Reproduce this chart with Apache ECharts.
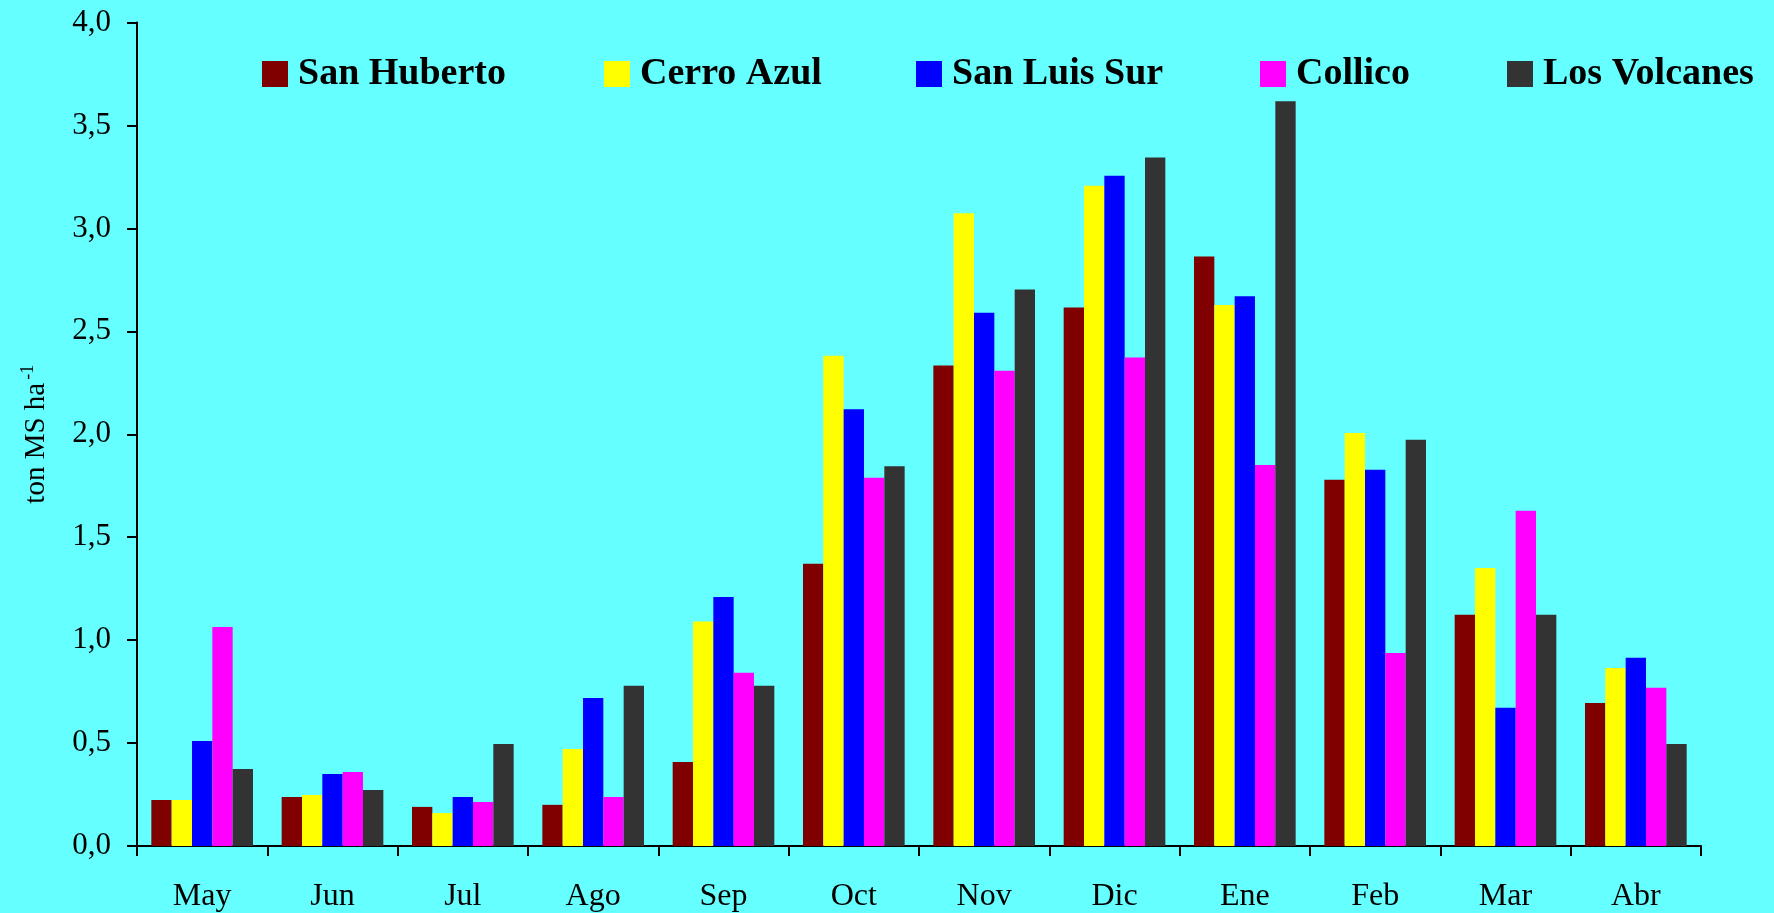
<!DOCTYPE html>
<html>
<head>
<meta charset="utf-8">
<script src="https://cdn.jsdelivr.net/npm/echarts@6/dist/echarts.min.js"></script>
<style>
html,body{margin:0;padding:0;background:#66FFFF;}
#chart{width:1774px;height:913px;}
</style>
</head>
<body>
<div id="chart"></div>
<script>
var categories = ['May','Jun','Jul','Ago','Sep','Oct','Nov','Dic','Ene','Feb','Mar','Abr'];
var seriesNames = ['San Huberto','Cerro Azul','San Luis Sur','Collico','Los Volcanes'];
var sanHuberto = [0.224,0.238,0.19,0.20,0.408,1.371,2.334,2.616,2.863,1.779,1.123,0.695];
var cerroAzul  = [0.224,0.248,0.16,0.471,1.09,2.381,3.073,3.207,2.628,2.006,1.35,0.865];
var sanLuisSur = [0.51,0.35,0.238,0.719,1.21,2.122,2.59,3.256,2.67,1.828,0.671,0.914];
var collico    = [1.064,0.36,0.214,0.238,0.841,1.789,2.308,2.373,1.851,0.937,1.629,0.769];
var losVolcanes= [0.374,0.272,0.496,0.778,0.778,1.844,2.703,3.344,3.617,1.973,1.123,0.496];
var yTicks = ['0,0','0,5','1,0','1,5','2,0','2,5','3,0','3,5','4,0'];

var colors = ['#800000','#FFFF00','#0000FF','#FF00FF','#333333'];
var values = [sanHuberto,cerroAzul,sanLuisSur,collico,losVolcanes];
var legendLefts = [262,604,916,1260,1507];
var serif = '"Liberation Serif","Times New Roman",serif';

var chart = echarts.init(document.getElementById('chart'));
var legends = seriesNames.map(function(n,i){
  return {
    data:[n], left:legendLefts[i], top:55, padding:0,
    itemWidth:26, itemHeight:26, icon:'rect',
    textStyle:{fontFamily:serif, fontWeight:'bold', fontSize:38, color:'#000', padding:[0,0,0,5]}
  };
});
var option = {
  backgroundColor:'#66FFFF',
  animation:false,
  legend: legends,
  grid:{left:137, right:73, top:22.5, bottom:67, containLabel:false},
  xAxis:{
    type:'category', data:categories,
    axisLine:{lineStyle:{color:'#000', width:2}},
    axisTick:{show:true, length:10, inside:false, lineStyle:{color:'#000', width:2}},
    axisLabel:{fontFamily:serif, fontSize:32, color:'#000', margin:35}
  },
  yAxis:{
    type:'value', min:0, max:4, interval:0.5,
    name:'ton MS ha{sup|-1}', nameLocation:'middle', nameGap:84, nameRotate:90,
    nameTextStyle:{fontFamily:serif, fontSize:29, color:'#000',
      rich:{sup:{fontFamily:serif, fontSize:18, color:'#000', verticalAlign:'top', padding:[0,0,16,3]}}},
    splitLine:{show:false},
    axisLine:{show:true, lineStyle:{color:'#000', width:2}},
    axisTick:{show:true, length:10, inside:false, lineStyle:{color:'#000', width:2}},
    axisLabel:{fontFamily:serif, fontSize:31, color:'#000', margin:26,
      formatter:function(v){ return yTicks[Math.round(v*2)]; }}
  },
  series: seriesNames.map(function(n,i){
    return {name:n, type:'bar', data:values[i], barGap:'0%', barCategoryGap:'22%',
      itemStyle:{color:colors[i]}};
  })
};
chart.setOption(option);
</script>
</body>
</html>
